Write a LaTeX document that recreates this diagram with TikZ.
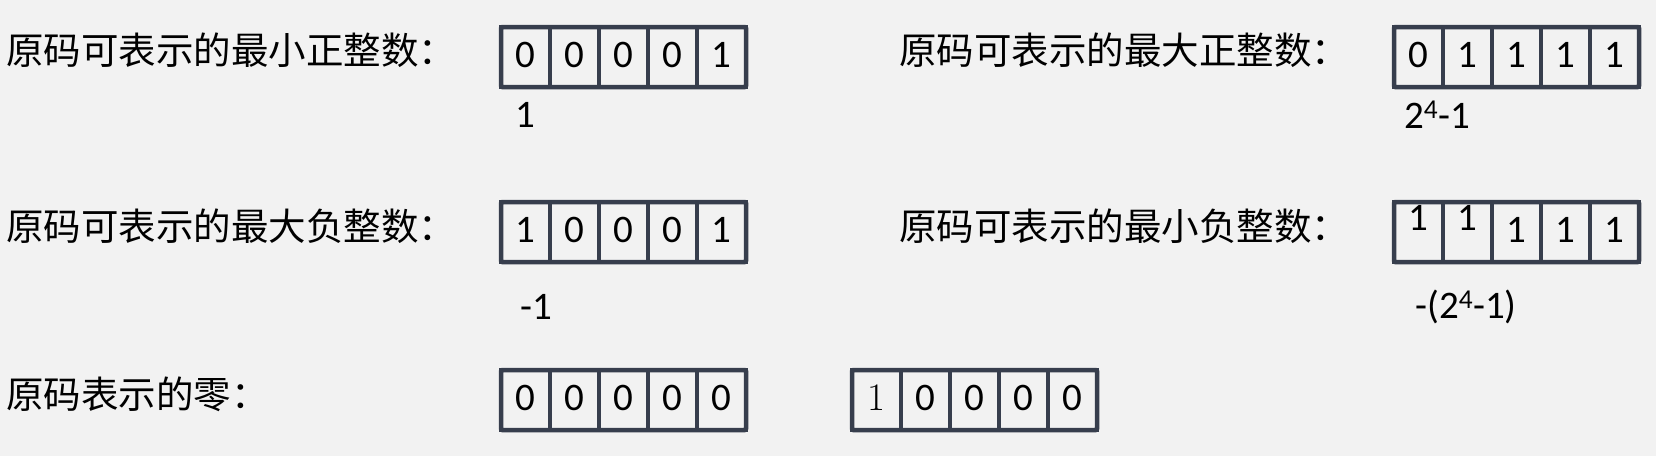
\documentclass[tikz,border=0pt]{standalone}
\usepackage{fontspec}
\newfontfamily\cjkfont{Noto Sans CJK SC}
\newfontfamily\bitfont{Carlito}
\usetikzlibrary{positioning}
\definecolor{bggray}{HTML}{F2F2F2}
\definecolor{slate}{HTML}{373E4D}

\begin{document}
\begin{tikzpicture}[
        x=1pt, y=-1pt,
        desc/.style={anchor=west, inner sep=0pt, font=\cjkfont\fontsize{37.5}{40}\selectfont},
        bit/.style={rectangle, draw=slate, line width=3.5pt, minimum width=49pt, minimum height=60pt,
            inner sep=0pt, outer sep=0pt, text depth=5pt, font=\bitfont\fontsize{39}{40}\selectfont},
        bitframe/.style={draw=slate, line width=4.5pt, rounded corners=1.5pt},
        val/.style={anchor=base, inner sep=0pt, font=\bitfont\fontsize{39}{40}\selectfont}
    ]
        % Background
        \fill[bggray] (0,0) rectangle (1656,456);

        % Descriptions
        \node[desc] (minpos) at (6,50) {原码可表示的最小正整数：};
        \node[desc] (maxpos) at (899,50) {原码可表示的最大正整数：};
        \node[desc] (maxneg) at (6,226) {原码可表示的最大负整数：};
        \node[desc] (minneg) at (899,226) {原码可表示的最小负整数：};
        \node[desc] (zero) at (6,394) {原码表示的零：};

        % Bit rows
        \foreach \b [count=\i] in {0,0,0,0,1}
            \node[bit] (a\i) at ({525.5+(\i-1)*49},57) {\b};
        \foreach \b [count=\i] in {0,1,1,1,1}
            \node[bit] (b\i) at ({1418.5+(\i-1)*49},57) {\b};
        \foreach \b [count=\i] in {1,0,0,0,1}
            \node[bit] (c\i) at ({525.5+(\i-1)*49},232) {\b};
        \foreach \b [count=\i] in {\raisebox{12pt}[\height][\depth]{1},\raisebox{12pt}[\height][\depth]{1},1,1,1}
            \node[bit] (d\i) at ({1418.5+(\i-1)*49},232) {\b};
        \foreach \b [count=\i] in {0,0,0,0,0}
            \node[bit] (e\i) at ({525.5+(\i-1)*49},400) {\b};
        \foreach \b [count=\i] in {{\normalfont 1},0,0,0,0}
            \node[bit] (f\i) at ({876.5+(\i-1)*49},400) {\b};

        % Frames
        \foreach \r in {a,b,c,d,e,f}
            \draw[bitframe] (\r1.north west) rectangle (\r5.south east);

        % Values
        \node[val] (vminpos) at (525,127) {1};
        \node[val] (vmaxpos) at (1437,128) {2\textsuperscript{4}-1};
        \node[val] (vmaxneg) at (536,319) {-1};
        \node[val] (vminneg) at (1466,318) {-(2\textsuperscript{4}-1)};

    \end{tikzpicture}
\end{document}
